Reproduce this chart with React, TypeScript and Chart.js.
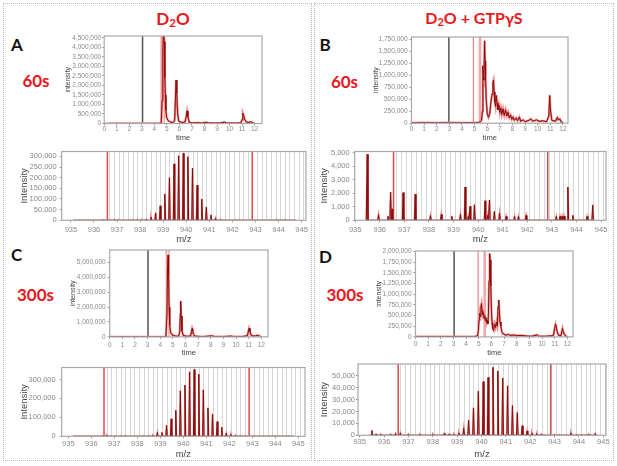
import React, { useEffect, useRef } from "react";
import { Chart, registerables } from "chart.js";

Chart.register(...registerables);
Chart.defaults.font.family = "'Liberation Sans', Arial, sans-serif";

type Pt = [number, number];

// ---------- tick labels ----------
const CHROM_X_TICKS = [0, 1, 2, 3, 4, 5, 6, 7, 8, 9, 10, 11, 12];
const MZ_X_TICKS = [935, 936, 937, 938, 939, 940, 941, 942, 943, 944, 945];
const A_Y_TICKS = [0, 500000, 1000000, 1500000, 2000000, 2500000, 3000000, 3500000, 4000000, 4500000];
const B_Y_TICKS = [0, 250000, 500000, 750000, 1000000, 1250000, 1500000, 1750000];
const C_Y_TICKS = [0, 1000000, 2000000, 3000000, 4000000, 5000000];
const D_Y_TICKS = [0, 250000, 500000, 750000, 1000000, 1250000, 1500000, 1750000, 2000000];
const A2_Y_TICKS = [0, 50000, 100000, 150000, 200000, 250000, 300000];
const B2_Y_TICKS = [0, 1000, 2000, 3000, 4000, 5000];
const C2_Y_TICKS = [0, 100000, 200000, 300000];
const D2_Y_TICKS = [0, 10000, 20000, 30000, 40000, 50000];

// ---------- chromatograms (time, intensity) ----------
const CHROM_A: Pt[] = [
  [0, 0], [0.5, 2000], [1, 3000], [1.5, 2000], [2, 3000], [2.5, 2000], [3, 3000], [3.5, 2000], [4, 3000],
  [4.4, 5000], [4.55, 20000], [4.62, 1200000], [4.68, 3800000], [4.74, 5200000], [4.79, 4300000],
  [4.84, 2400000], [4.88, 1500000], [4.92, 700000], [4.98, 320000], [5.1, 150000], [5.3, 80000],
  [5.5, 50000], [5.62, 150000], [5.68, 1200000], [5.73, 2280000], [5.79, 1600000], [5.86, 500000],
  [5.95, 120000], [6.2, 50000], [6.45, 80000], [6.54, 350000], [6.61, 660000], [6.68, 350000],
  [6.78, 80000], [7.0, 30000], [7.5, 40000], [7.8, 25000], [8.1, 60000], [8.3, 30000], [8.8, 25000],
  [9.3, 30000], [9.6, 70000], [9.75, 25000], [10.3, 20000], [10.9, 30000], [11.0, 200000],
  [11.06, 550000], [11.13, 420000], [11.22, 200000], [11.33, 80000], [11.55, 60000], [11.65, 90000],
  [11.78, 70000], [11.9, 20000], [12.0, 5000],
];
const CHROM_B: Pt[] = [
  [0, 8000], [1, 10000], [2, 8000], [3, 10000], [4, 8000], [5, 10000], [5.3, 15000], [5.45, 30000],
  [5.55, 60000], [5.62, 250000], [5.66, 1200000], [5.7, 950000], [5.74, 900000], [5.79, 1720000],
  [5.83, 1300000], [5.87, 950000], [5.92, 500000], [6.0, 200000], [6.1, 120000], [6.2, 200000],
  [6.3, 450000], [6.38, 600000], [6.45, 850000], [6.5, 900000], [6.55, 650000], [6.6, 450000],
  [6.66, 350000], [6.72, 580000], [6.78, 420000], [6.85, 280000], [6.92, 380000], [7.0, 220000],
  [7.08, 320000], [7.15, 180000], [7.25, 300000], [7.35, 160000], [7.45, 280000], [7.55, 150000],
  [7.65, 230000], [7.75, 110000], [7.85, 170000], [7.95, 80000], [8.05, 130000], [8.15, 60000],
  [8.3, 110000], [8.4, 50000], [8.55, 130000], [8.65, 40000], [8.85, 70000], [9.0, 30000],
  [9.3, 60000], [9.45, 90000], [9.6, 40000], [9.9, 70000], [10.1, 40000], [10.4, 50000],
  [10.7, 30000], [10.88, 150000], [10.95, 580000], [11.02, 250000], [11.12, 60000], [11.4, 40000],
  [11.55, 120000], [11.62, 70000], [11.75, 90000], [11.85, 30000], [12.0, 10000],
];
const CHROM_C: Pt[] = [
  [0, 0], [1, 3000], [2, 2000], [3, 3000], [4, 3000], [4.45, 10000], [4.53, 1500000], [4.58, 4600000],
  [4.62, 5500000], [4.66, 4200000], [4.7, 2000000], [4.75, 800000], [4.82, 300000], [4.95, 120000],
  [5.2, 60000], [5.45, 40000], [5.54, 300000], [5.59, 1500000], [5.62, 2400000], [5.66, 1400000],
  [5.72, 400000], [5.82, 100000], [6.1, 40000], [6.4, 60000], [6.47, 350000], [6.52, 560000],
  [6.57, 380000], [6.65, 150000], [6.75, 50000], [7.2, 25000], [7.6, 30000], [8.1, 70000],
  [8.3, 25000], [9.0, 20000], [9.6, 50000], [9.8, 20000], [10.5, 20000], [10.9, 80000],
  [10.98, 400000], [11.03, 580000], [11.1, 350000], [11.2, 120000], [11.35, 60000], [11.55, 70000],
  [11.7, 110000], [11.8, 80000], [11.95, 20000], [12.0, 5000],
];
const CHROM_D: Pt[] = [
  [0, 5000], [1, 8000], [2, 6000], [3, 8000], [4, 6000], [4.6, 8000], [4.9, 20000], [4.97, 150000],
  [5.02, 400000], [5.07, 550000], [5.12, 480000], [5.17, 700000], [5.22, 780000], [5.27, 600000],
  [5.32, 520000], [5.37, 560000], [5.42, 430000], [5.47, 500000], [5.52, 380000], [5.57, 450000],
  [5.62, 330000], [5.67, 380000], [5.72, 300000], [5.77, 550000], [5.81, 1300000], [5.86, 1950000],
  [5.9, 1800000], [5.95, 1200000], [6.0, 650000], [6.05, 330000], [6.1, 200000], [6.18, 150000],
  [6.25, 300000], [6.32, 220000], [6.4, 340000], [6.47, 250000], [6.53, 700000], [6.58, 860000],
  [6.63, 600000], [6.68, 350000], [6.75, 250000], [6.82, 120000], [6.9, 80000], [7.0, 60000],
  [7.15, 40000], [7.3, 60000], [7.5, 35000], [7.8, 45000], [8.0, 30000], [8.4, 35000], [8.8, 20000],
  [9.2, 15000], [9.6, 50000], [9.75, 15000], [10.3, 15000], [10.9, 30000], [11.0, 200000],
  [11.07, 300000], [11.13, 230000], [11.2, 120000], [11.3, 40000], [11.5, 25000], [11.62, 200000],
  [11.68, 120000], [11.8, 40000], [11.95, 10000], [12.0, 3000],
];

// ---------- mass spectra (m/z, intensity) ----------
const SPEC_A: Pt[] = [
  [936.4, 2000], [936.87, 2500], [937.07, 1500], [937.67, 1500], [937.87, 2000], [938.07, 2500],
  [938.27, 5000], [938.47, 15000], [938.67, 35000], [938.87, 68000], [939.07, 123000], [939.27, 200000],
  [939.47, 265000], [939.67, 303000], [939.87, 315000], [940.07, 298000], [940.27, 245000],
  [940.47, 165000], [940.67, 100000], [940.87, 62000], [941.07, 25000], [941.27, 10000],
  [941.47, 3000], [943.9, 1500], [944.3, 1500],
];
const SPEC_B: Pt[] = [
  [935.49, 4860], [935.95, 430], [936.33, 290], [936.44, 2090], [936.5, 840], [936.95, 2040],
  [937.44, 1920], [938.06, 340], [938.5, 430], [938.93, 290], [939.28, 430], [939.47, 2450],
  [939.6, 290], [939.67, 1030], [939.85, 1150], [940.28, 1440], [940.39, 360], [940.46, 1490],
  [940.66, 650], [940.87, 530], [941.14, 290], [941.48, 290], [941.64, 290], [941.95, 360],
  [943.18, 290], [943.33, 290], [943.42, 290], [943.5, 290], [943.65, 2450], [943.85, 360],
  [944.43, 290], [944.66, 1130],
];
const SPEC_C: Pt[] = [
  [935.3, 1000], [936.47, 2000], [936.67, 5000], [937.27, 2000], [937.47, 2000], [938.27, 2000],
  [938.47, 3000], [938.67, 5000], [938.87, 20000], [939.07, 20000], [939.27, 58000], [939.47, 92000],
  [939.67, 137000], [939.87, 240000], [940.07, 270000], [940.27, 340000], [940.47, 352000],
  [940.67, 328000], [940.87, 245000], [941.07, 150000], [941.27, 118000], [941.47, 77000],
  [941.67, 48000], [941.87, 17000], [942.07, 10000], [942.27, 5000], [942.47, 2000],
];
const SPEC_D: Pt[] = [
  [935.5, 4000], [935.67, 1000], [935.87, 800], [936.27, 1000], [936.47, 1500], [936.67, 2000],
  [937.0, 1000], [937.47, 800], [938.0, 1000], [938.47, 1500], [938.67, 1000], [938.87, 1000],
  [939.07, 2000], [939.27, 6000], [939.47, 12600], [939.67, 23000], [939.87, 37000], [940.07, 45000],
  [940.27, 48500], [940.47, 57000], [940.67, 54000], [940.87, 48000], [941.07, 41500],
  [941.27, 25000], [941.47, 19000], [941.67, 8000], [941.87, 3600], [942.07, 2000], [942.27, 1500],
  [942.47, 1000], [943.0, 500], [943.2, 500], [943.67, 2000], [943.9, 500], [944.1, 500],
  [944.4, 1000], [944.67, 1500],
];

// marker positions
const CHROM_MARKS_A = { black: 3.06, pink: [4.55, 4.8] };
const CHROM_MARKS_B = { black: 2.96, pink: [4.9, 5.43] };
const CHROM_MARKS_C = { black: 3.03, pink: [4.49, 4.7] };
const CHROM_MARKS_D = { black: 3.05, pink: [4.95, 5.47] };
const MZ_WINDOW_A = [936.58, 942.86];
const MZ_WINDOW_B = [936.56, 942.83];
const MZ_WINDOW_C = [936.55, 942.86];
const MZ_WINDOW_D = [936.58, 942.84];
const ISOTOPE_START = 936.67;
const ISOTOPE_STEP = 0.2;
const ISOTOPE_END = 945.2;

// ---------- styling ----------
const DARK_RED = "#8b0b0b";
const PINK = "#f08c8c";
const MARK_RED = "#e04848";
const TICK_COLOR = "#8a8a8a";
const TITLE_COLOR = "#454545";
const HEAD_RED = "#e8171b";

type VLine = { x: number; color: string; width: number };
type Spec = {
  plot: [number, number, number, number];
  xRange: [number, number];
  yRange: [number, number];
  xTicks: number[];
  yTicks: number[];
  xTitle: string;
  yTitle: string;
  yTitleX: number;
  xTitleY: number;
  tickFont: number;
  xTitleFont: number;
  yTitleFont: number;
  xTickPad: number;
  yTickPad: number;
  datasets: any[];
  vlines: VLine[];
  isotopes: boolean;
};

const fmt = (v: number) => Number(v).toLocaleString("en-US");

function traceSets(pts: Pt[]) {
  const data = pts.map(([x, y]) => ({ x, y }));
  return [
    { data, borderColor: DARK_RED, borderWidth: 1, pointRadius: 0, tension: 0, fill: false, order: 0 },
    { data, borderColor: PINK, borderWidth: 2.2, pointRadius: 0, tension: 0, fill: false, order: 1 },
  ];
}

const SPIKE_HALF = 0.03;
function spikeSets(peaks: Pt[], from: number, to: number) {
  const data: { x: number; y: number }[] = [{ x: from, y: 0 }];
  [...peaks].sort((a, b) => a[0] - b[0]).forEach(([m, h]) => {
    data.push({ x: m - SPIKE_HALF, y: 0 }, { x: m, y: h }, { x: m + SPIKE_HALF, y: 0 });
  });
  data.push({ x: to, y: 0 });
  return [
    { data, borderColor: DARK_RED, borderWidth: 1, pointRadius: 0, tension: 0, fill: false, order: 0 },
    { data, borderColor: "#e48888", borderWidth: 1.6, pointRadius: 0, tension: 0, fill: false, order: 1 },
  ];
}

function chromLines(m: { black: number; pink: number[] }, thinFirst: boolean): VLine[] {
  return [
    { x: m.black, color: "#555555", width: 1.5 },
    { x: m.pink[0], color: thinFirst ? "#e06a6a" : "#f2a0a0", width: thinFirst ? 1 : 1.6 },
    { x: m.pink[1], color: "#f4a8a8", width: thinFirst ? 2.6 : 1.6 },
  ];
}
function mzLines(w: number[]): VLine[] {
  return w.map((x) => ({ x, color: MARK_RED, width: 1.5 }));
}

function geometry(s: Spec) {
  const [L, T, R, B] = s.plot;
  const ylh = s.yTitleFont * 1.2;
  const xlh = s.xTitleFont * 1.2;
  const left = s.yTitleX - ylh / 2 - 1;
  const padTop = 6;
  const padRight = 9;
  const top = T - padTop;
  const bottom = s.xTitleY + xlh / 2 + 1;
  return {
    left,
    top,
    width: R + padRight - left,
    height: bottom - top,
    yW: L - left,
    xH: bottom - B,
    padTop,
    padRight,
  };
}

function makeConfig(s: Spec): any {
  const g = geometry(s);
  const decor = {
    id: "decor",
    beforeDatasetsDraw(chart: any) {
      const { ctx, chartArea, scales } = chart;
      const { left, right, top, bottom } = chartArea;
      ctx.save();
      ctx.beginPath();
      ctx.rect(left, top, right - left, bottom - top);
      ctx.clip();
      if (s.isotopes) {
        ctx.strokeStyle = "#d6d6d6";
        ctx.lineWidth = 1;
        for (let v = ISOTOPE_START; v <= ISOTOPE_END; v += ISOTOPE_STEP) {
          const px = Math.round(scales.x.getPixelForValue(v)) + 0.5;
          ctx.beginPath();
          ctx.moveTo(px, top);
          ctx.lineTo(px, bottom);
          ctx.stroke();
        }
      }
      s.vlines.forEach((l) => {
        const px = scales.x.getPixelForValue(l.x);
        ctx.strokeStyle = l.color;
        ctx.lineWidth = l.width;
        ctx.beginPath();
        ctx.moveTo(px, top);
        ctx.lineTo(px, bottom);
        ctx.stroke();
      });
      ctx.restore();
    },
    afterDatasetsDraw(chart: any) {
      const { ctx, chartArea } = chart;
      const { left, right, top, bottom } = chartArea;
      ctx.save();
      ctx.strokeStyle = "#a9a9a9";
      ctx.lineWidth = 1.2;
      ctx.strokeRect(left, top, right - left, bottom - top);
      ctx.restore();
    },
  };
  return {
    type: "line",
    data: { datasets: s.datasets },
    plugins: [decor],
    options: {
      responsive: false,
      animation: false,
      events: [],
      layout: { padding: { left: 0, top: g.padTop, right: g.padRight, bottom: 0 } },
      plugins: { legend: { display: false }, tooltip: { enabled: false }, title: { display: false } },
      scales: {
        x: {
          type: "linear",
          min: s.xRange[0],
          max: s.xRange[1],
          afterBuildTicks: (sc: any) => {
            sc.ticks = s.xTicks.map((value) => ({ value }));
          },
          afterFit: (sc: any) => {
            sc.height = g.xH;
          },
          ticks: {
            autoSkip: false,
            maxRotation: 0,
            minRotation: 0,
            color: TICK_COLOR,
            font: { size: s.tickFont },
            padding: s.xTickPad,
            callback: (v: number) => fmt(v),
          },
          grid: { display: true, drawOnChartArea: false, drawTicks: true, tickLength: 2, color: "#9a9a9a" },
          border: { display: false },
          title: {
            display: true,
            text: s.xTitle,
            color: TITLE_COLOR,
            font: { size: s.xTitleFont },
            padding: { top: 0, bottom: 1 },
          },
        },
        y: {
          type: "linear",
          min: s.yRange[0],
          max: s.yRange[1],
          afterBuildTicks: (sc: any) => {
            sc.ticks = s.yTicks.map((value) => ({ value }));
          },
          afterFit: (sc: any) => {
            sc.width = g.yW;
          },
          ticks: {
            autoSkip: false,
            color: TICK_COLOR,
            font: { size: s.tickFont },
            padding: s.yTickPad,
            callback: (v: number) => fmt(v),
          },
          grid: { display: true, drawOnChartArea: false, drawTicks: true, tickLength: 2, color: "#9a9a9a" },
          border: { display: false },
          title: {
            display: true,
            text: s.yTitle,
            color: TITLE_COLOR,
            font: { size: s.yTitleFont },
            padding: { top: 1, bottom: 0 },
          },
        },
      },
    },
  };
}

const chromBase = {
  xTicks: CHROM_X_TICKS,
  xTitle: "time",
  yTitle: "intensity",
  tickFont: 6.5,
  xTitleFont: 7.5,
  yTitleFont: 7,
  isotopes: false,
};
const specBase = {
  xTicks: MZ_X_TICKS,
  xTitle: "m/z",
  yTitle: "Intensity",
  tickFont: 7.5,
  xTitleFont: 9.5,
  yTitleFont: 9.5,
  isotopes: true,
};

const SPECS: Spec[] = [
  {
    ...chromBase, plot: [104, 36, 262, 123], xRange: [0, 12.59], yRange: [0, 4590000], yTicks: A_Y_TICKS,
    yTitleX: 68, xTitleY: 137, xTickPad: 0, yTickPad: 1,
    datasets: traceSets(CHROM_A), vlines: chromLines(CHROM_MARKS_A, false),
  },
  {
    ...chromBase, plot: [411, 37, 567, 122.7], xRange: [0, 12.4], yRange: [0, 1800000], yTicks: B_Y_TICKS,
    yTitleX: 375.7, xTitleY: 137, xTickPad: 0, yTickPad: 2,
    datasets: traceSets(CHROM_B), vlines: chromLines(CHROM_MARKS_B, true),
  },
  {
    ...chromBase, plot: [110, 250, 268.3, 336.7], xRange: [0, 12.53], yRange: [0, 5830000], yTicks: C_Y_TICKS,
    yTitleX: 73.5, xTitleY: 352.3, xTickPad: 2, yTickPad: 2,
    datasets: traceSets(CHROM_C), vlines: chromLines(CHROM_MARKS_C, false),
  },
  {
    ...chromBase, plot: [415.3, 250.7, 573, 336.7], xRange: [0, 12.45], yRange: [0, 2008000], yTicks: D_Y_TICKS,
    yTitleX: 379, xTitleY: 352.3, xTickPad: 1, yTickPad: 2,
    datasets: traceSets(CHROM_D), vlines: chromLines(CHROM_MARKS_D, true),
  },
  {
    ...specBase, plot: [62, 150, 306, 220], xRange: [934.6, 945.19], yRange: [0, 323000], yTicks: A2_Y_TICKS,
    yTitleX: 25, xTitleY: 239, xTickPad: 3, yTickPad: 3,
    datasets: spikeSets(SPEC_A, 935.1, 944.75), vlines: mzLines(MZ_WINDOW_A),
  },
  {
    ...specBase, plot: [354.7, 149.7, 606.3, 220], xRange: [934.98, 945.2], yRange: [0, 5070], yTicks: B2_Y_TICKS,
    yTitleX: 324.7, xTitleY: 239, xTickPad: 3, yTickPad: 3,
    datasets: spikeSets(SPEC_B, 935.45, 944.72), vlines: mzLines(MZ_WINDOW_B),
  },
  {
    ...specBase, plot: [62, 365, 305, 436], xRange: [934.71, 945.29], yRange: [0, 363000], yTicks: C2_Y_TICKS,
    yTitleX: 25, xTitleY: 454, xTickPad: 1, yTickPad: 4,
    datasets: spikeSets(SPEC_C, 935.2, 944.8), vlines: mzLines(MZ_WINDOW_C),
  },
  {
    ...specBase, plot: [358, 364, 605.7, 435], xRange: [934.93, 945.11], yRange: [0, 59800], yTicks: D2_Y_TICKS,
    yTitleX: 324.7, xTitleY: 454, xTickPad: 0, yTickPad: 1,
    datasets: spikeSets(SPEC_D, 935.4, 944.7), vlines: mzLines(MZ_WINDOW_D),
  },
];

function ChartBox({ spec }: { spec: Spec }) {
  const ref = useRef<HTMLCanvasElement | null>(null);
  const g = geometry(spec);
  useEffect(() => {
    if (!ref.current) return;
    const chart = new Chart(ref.current, makeConfig(spec));
    return () => chart.destroy();
  }, [spec]);
  return (
    <canvas
      ref={ref}
      width={Math.round(g.width)}
      height={Math.round(g.height)}
      style={{ position: "absolute", left: g.left, top: g.top, width: Math.round(g.width), height: Math.round(g.height) }}
    />
  );
}

const HEAD_FONT = "Lato, 'Liberation Sans', Arial, sans-serif";

function Label({ x, y, size, color, children }: { x: number; y: number; size: number; color: string; children: React.ReactNode }) {
  return (
    <div
      style={{
        position: "absolute",
        left: x,
        top: y,
        transform: "translate(-50%, -50%)",
        whiteSpace: "nowrap",
        lineHeight: 1,
        fontFamily: HEAD_FONT,
        fontWeight: 700,
        fontSize: size,
        color,
      }}
    >
      {children}
    </div>
  );
}

export default function App() {
  return (
    <div
      style={{
        position: "absolute",
        left: 0,
        top: 0,
        width: 617,
        height: 466,
        background: "#ffffff",
        overflow: "hidden",
      }}
    >
      <div style={{ position: "absolute", left: 3, top: 3, width: 309, height: 458, border: "1px dotted #b8b8b8", boxSizing: "border-box" }} />
      <div style={{ position: "absolute", left: 314, top: 3, width: 300, height: 458, border: "1px dotted #b8b8b8", boxSizing: "border-box" }} />

      <Label x={173} y={18} size={17} color={HEAD_RED}>
        D<sub style={{ fontSize: "0.68em", verticalAlign: "-0.2em", lineHeight: 0 }}>2</sub>O
      </Label>
      <Label x={474} y={18} size={16} color={HEAD_RED}>
        D<sub style={{ fontSize: "0.68em", verticalAlign: "-0.2em", lineHeight: 0 }}>2</sub>O + GTPγS
      </Label>

      <Label x={17} y={44} size={17} color="#111">A</Label>
      <Label x={325} y={44} size={17} color="#111">B</Label>
      <Label x={16.5} y={254} size={17} color="#111">C</Label>
      <Label x={325.5} y={256} size={17} color="#111">D</Label>

      <Label x={36} y={80} size={17} color={HEAD_RED}>60s</Label>
      <Label x={344.5} y={81} size={17} color={HEAD_RED}>60s</Label>
      <Label x={35.5} y={293.5} size={17} color={HEAD_RED}>300s</Label>
      <Label x={345} y={294} size={17} color={HEAD_RED}>300s</Label>

      {SPECS.map((s, i) => (
        <ChartBox key={i} spec={s} />
      ))}
    </div>
  );
}
